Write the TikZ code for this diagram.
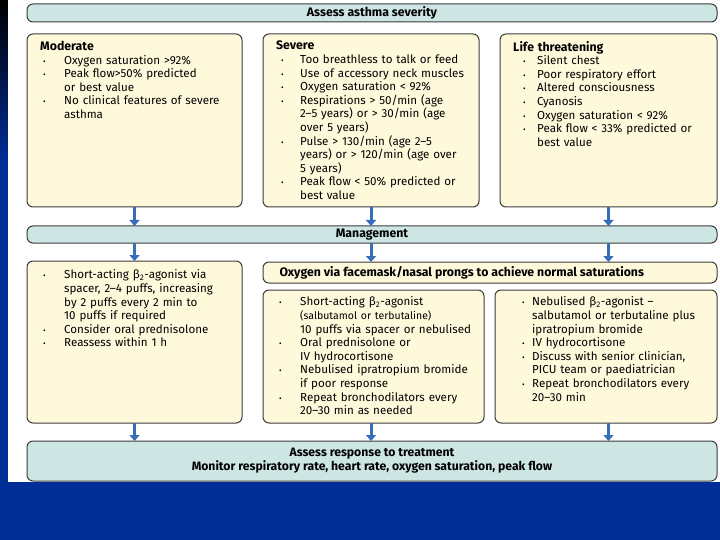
\documentclass[tikz,border=0pt]{standalone}
\usepackage{xcolor}
\usepackage{fontspec}
\setmainfont{Fira Sans}
\usepackage{tikz}
\usetikzlibrary{arrows.meta}

\definecolor{bgblue}{RGB}{0,45,150}
\definecolor{barteal}{RGB}{205,230,228}
\definecolor{boxcream}{RGB}{255,249,220}
\definecolor{edgegray}{RGB}{60,60,60}
\definecolor{flowblue}{RGB}{55,110,185}

%% una linea con punto %%%%%%%%
\newcommand{\itm}[2][3pt]{\par\hangindent=24pt\hangafter=1\noindent\makebox[24pt][l]{\hspace{#1}{\footnotesize\textbullet}}#2\par}
\newcommand{\nl}{\newline}

\begin{document}
\begin{tikzpicture}[x=1pt,y=-1pt,
  bar/.style={draw=edgegray, line width=1pt, fill=barteal, rounded corners=6pt, inner sep=0pt, outer sep=0pt, anchor=north west},
  panel/.style={draw=edgegray, line width=1pt, fill=boxcream, rounded corners=6pt, inner sep=0pt, outer sep=0pt, anchor=north west},
  head/.style={font=\bfseries\fontsize{12.3}{13}\selectfont},
  txt/.style={inner sep=0pt, anchor=north west, align=left, text width=215pt, font=\fontsize{11.6}{13.6}\selectfont},
  flow/.style={flowblue, line width=3pt, -{Triangle[width=10pt,length=6pt]}}]
% fondo y panel blanco
\useasboundingbox (0,0) rectangle (720,540);
\fill[bgblue] (0,0) rectangle (720,540);
\shade[top color=black, bottom color=bgblue] (0,0) rectangle (8,160);
\fill[white] (8,0) rectangle (720,482);

%%%%%%%%%%%%%%%%%%%%%%%%%%%%%%%%%%%%%
%% fila 1: severidad
\node[bar, minimum width=690pt, minimum height=18pt] (sever) at (27,4) {};
\node[head] (severlbl) at (sever.center) {Assess asthma severity};

\node[panel, minimum width=215pt, minimum height=173pt] (mod) at (27,34) {};
\node[panel, minimum width=216pt, minimum height=173pt] (sev) at (263,34) {};
\node[panel, minimum width=217pt, minimum height=173pt] (life) at (500,34) {};

\node[txt] (modtxt) at ([xshift=13pt,yshift=-7pt]mod.north west) {{\bfseries\fontsize{12.3}{13.6}\selectfont Moderate}
\itm{Oxygen saturation >92\%}
\itm{Peak flow>50\% predicted\nl or best value}
\itm{No clinical features of severe\nl asthma}};

\node[txt] (sevtxt) at ([xshift=13pt,yshift=-7pt]sev.north west) {{\bfseries\fontsize{12.3}{13.6}\selectfont Severe}
\itm[5pt]{Too breathless to talk or feed}
\itm[5pt]{Use of accessory neck muscles}
\itm[5pt]{Oxygen saturation < 92\%}
\itm[5pt]{Respirations > 50/min (age\nl 2--5 years) or > 30/min (age\nl over 5 years)}
\itm[5pt]{Pulse > 130/min (age 2--5\nl years) or > 120/min (age over\nl 5 years)}
\itm[5pt]{Peak flow < 50\% predicted or\nl best value}};

\node[txt] (lifetxt) at ([xshift=13pt,yshift=-7pt]life.north west) {{\bfseries\fontsize{12.3}{13.6}\selectfont Life threatening}
\itm[10pt]{Silent chest}
\itm[10pt]{Poor respiratory effort}
\itm[10pt]{Altered consciousness}
\itm[10pt]{Cyanosis}
\itm[10pt]{Oxygen saturation < 92\%}
\itm[10pt]{Peak flow < 33\% predicted or\nl best value}};

%%%%%%%%%%%%%%%%%%%%%%%%%%%%%%%%%%%%%
%% fila 2: manejo
\node[bar, minimum width=690pt, minimum height=17pt] (mgmt) at (27,226) {};
\node[head] (mgmtlbl) at (mgmt.center) {Management};

\node[panel, minimum width=215pt, minimum height=162pt] (lowl) at (27,261) {};
\node[panel, minimum width=454pt, minimum height=21pt] (oxy) at (263,262) {};
\node[head, anchor=west] (oxylbl) at ([xshift=13pt]oxy.west) {Oxygen via facemask/nasal prongs to achieve normal saturations};
\node[panel, minimum width=221pt, minimum height=133pt] (mid) at (263,290) {};
\node[panel, minimum width=222pt, minimum height=133pt] (lowr) at (495,290) {};

\node[txt] (lowltxt) at ([xshift=13pt,yshift=-4pt]lowl.north west) {%
\itm{Short-acting β\textsubscript{2}-agonist via\nl spacer, 2--4 puffs, increasing\nl by 2 puffs every 2 min to\nl 10 puffs if required}
\itm{Consider oral prednisolone}
\itm{Reassess within 1 h}};

\node[txt] (midtxt) at ([xshift=13pt,yshift=-2pt]mid.north west) {%
\itm{Short-acting β\textsubscript{2}-agonist\nl {\fontsize{10.5}{13.6}\selectfont(salbutamol or terbutaline)}\nl 10 puffs via spacer or nebulised}
\itm{Oral prednisolone or\nl IV hydrocortisone}
\itm{Nebulised ipratropium bromide\nl if poor response}
\itm{Repeat bronchodilators every\nl 20--30 min as needed}};

\node[txt] (lowrtxt) at ([xshift=13pt,yshift=-2pt]lowr.north west) {%
\itm[14pt]{Nebulised β\textsubscript{2}-agonist --\nl salbutamol or terbutaline plus\nl ipratropium bromide}
\itm[14pt]{IV hydrocortisone}
\itm[14pt]{Discuss with senior clinician,\nl PICU team or paediatrician}
\itm[14pt]{Repeat bronchodilators every\nl 20--30 min}};

%%%%%%%%%%%%%%%%%%%%%%%%%%%%%%%%%%%%%
%% fila 3: respuesta
\node[bar, minimum width=690pt, minimum height=40pt] (resp) at (27,441) {};
\node[align=center, font=\bfseries\fontsize{12.2}{14}\selectfont] (resplbl) at (resp.center) {Assess response to treatment\\Monitor respiratory rate, heart rate, oxygen saturation, peak flow};

%% flechas azules
\draw[flow] (mod.south) -- (mod.south |- mgmt.north);
\draw[flow] (sev.south) -- (sev.south |- mgmt.north);
\draw[flow] (life.south) -- (life.south |- mgmt.north);
\draw[flow] (mod.south |- mgmt.south) -- (lowl.north);
\draw[flow] (sev.south |- mgmt.south) -- (sev.south |- oxy.north);
\draw[flow] (life.south |- mgmt.south) -- (life.south |- oxy.north);
\draw[flow] (lowl.south) -- (lowl.south |- resp.north);
\draw[flow] (sev.south |- mid.south) -- (sev.south |- resp.north);
\draw[flow] (life.south |- lowr.south) -- (life.south |- resp.north);
\end{tikzpicture}
\end{document}
